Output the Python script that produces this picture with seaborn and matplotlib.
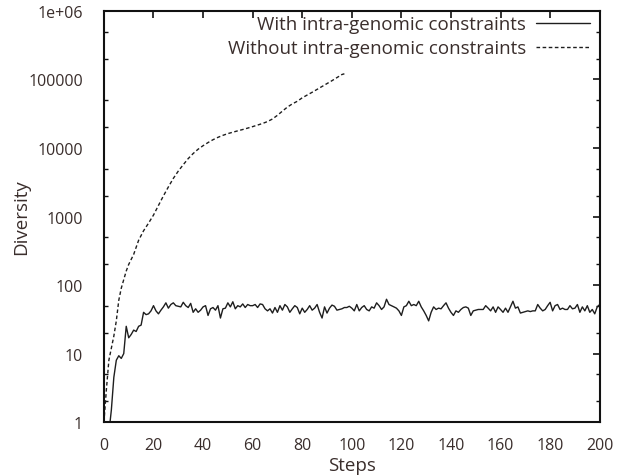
import numpy as np
import pandas as pd
import matplotlib
matplotlib.use("Agg")
import matplotlib.pyplot as plt
import seaborn as sns
from matplotlib.ticker import LogLocator, FixedLocator, NullFormatter, FixedFormatter

# ---- data ----
with_steps = list(range(2, 201))
with_values = [
    0.7, 1.5, 4.5, 8.0, 9.3, 8.5, 10.0, 25.0, 17.0, 19.0,          # 2-11
    22.0, 21.0, 25.0, 26.0, 40.0, 37.0, 38.0, 42.0, 50.0, 42.0,     # 12-21
    38.0, 43.0, 48.0, 55.0, 46.0, 52.0, 55.0, 50.0, 49.0, 48.0,     # 22-31
    56.0, 50.0, 47.0, 54.0, 40.0, 45.0, 40.0, 43.0, 48.0, 50.0,     # 32-41
    36.0, 45.0, 47.0, 43.0, 50.0, 33.0, 45.0, 46.0, 55.0, 48.0,     # 42-51
    57.0, 45.0, 50.0, 48.0, 53.0, 47.0, 52.0, 50.0, 50.0, 52.0,     # 52-61
    47.0, 53.0, 52.0, 45.0, 42.0, 45.0, 39.0, 47.0, 40.0, 50.0,     # 62-71
    43.0, 52.0, 48.0, 40.0, 45.0, 50.0, 47.0, 38.0, 46.0, 40.0,     # 72-81
    44.0, 50.0, 43.0, 46.0, 52.0, 40.0, 33.0, 48.0, 39.0, 46.0,     # 82-91
    51.0, 49.0, 43.0, 44.0, 45.0, 47.0, 47.0, 49.0, 46.0, 42.0,     # 92-101
    52.0, 42.0, 47.0, 50.0, 44.0, 42.0, 48.0, 46.0, 55.0, 50.0,     # 102-111
    44.0, 48.0, 62.0, 52.0, 50.0, 48.0, 46.0, 42.0, 36.0, 48.0,     # 112-121
    50.0, 58.0, 50.0, 52.0, 50.0, 58.0, 48.0, 42.0, 36.0, 30.0,     # 122-131
    40.0, 48.0, 44.0, 46.0, 45.0, 50.0, 55.0, 46.0, 40.0, 36.0,     # 132-141
    42.0, 40.0, 44.0, 47.0, 48.0, 46.0, 36.0, 42.0, 43.0, 44.0,     # 142-151
    44.0, 44.0, 50.0, 46.0, 42.0, 48.0, 40.0, 48.0, 44.0, 40.0,     # 152-161
    46.0, 40.0, 48.0, 58.0, 46.0, 48.0, 39.0, 40.0, 41.0, 42.0,     # 162-171
    41.0, 42.0, 42.0, 52.0, 46.0, 42.0, 44.0, 50.0, 56.0, 42.0,     # 172-181
    50.0, 52.0, 44.0, 46.0, 44.0, 44.0, 50.0, 45.0, 46.0, 52.0,     # 182-191
    40.0, 48.0, 42.0, 50.0, 40.0, 44.0, 38.0, 48.0, 52.0,           # 192-200
]

without_steps = [0, 1, 2, 3, 4, 5, 6, 7, 8, 9, 10, 12, 14, 16, 18, 20, 22, 24,
                 26, 28, 30, 32, 34, 36, 38, 40, 42, 44, 46, 48, 50, 52, 54,
                 56, 58, 60, 62, 64, 66, 68, 70, 72, 74, 76, 78, 80, 84, 88,
                 92, 96, 97]
without_values = [1, 3, 8, 12, 18, 30, 60, 90, 120, 160, 200, 280, 450, 620,
                  800, 1050, 1450, 2000, 2700, 3600, 4600, 5700, 7000, 8300,
                  9600, 10800, 12000, 13200, 14300, 15300, 16200, 17000, 17800,
                  18600, 19500, 20500, 21600, 22800, 24300, 26500, 30000, 34500,
                  39500, 44000, 48000, 54000, 65000, 79000, 96000, 118000, 121000]

x_ticks = [0, 20, 40, 60, 80, 100, 120, 140, 160, 180, 200]
y_ticks = [1, 10, 100, 1000, 10000, 100000, 1000000]
y_tick_labels = ["1", "10", "100", "1000", "10000", "100000", "1e+06"]
label_with = "With intra-genomic constraints"
label_without = "Without intra-genomic constraints"

# ---- style ----
sns.set_theme(style="white")
plt.rcParams["font.family"] = ["Open Sans", "DejaVu Sans"]
text_color = "#3a2e2c"
line_color = "#1e1e1e"

fig = plt.figure(figsize=(6.26, 4.77), dpi=100)
ax = fig.add_axes([0.166, 0.113, 0.792, 0.862])

df_with = pd.DataFrame({"Steps": with_steps, "Diversity": with_values})
df_without = pd.DataFrame({"Steps": without_steps, "Diversity": without_values})

sns.lineplot(data=df_with, x="Steps", y="Diversity", ax=ax, color=line_color,
             linewidth=1.0, legend=False)
sns.lineplot(data=df_without, x="Steps", y="Diversity", ax=ax, color=line_color,
             linewidth=1.0, legend=False)
line_with, line_without = ax.get_lines()[0], ax.get_lines()[1]
line_without.set_dashes((2.6, 1.8))

ax.set_yscale("log")
ax.set_xlim(0, 200)
ax.set_ylim(1, 1e6)

ax.xaxis.set_major_locator(FixedLocator(x_ticks))
ax.yaxis.set_major_locator(FixedLocator(y_ticks))
ax.yaxis.set_major_formatter(FixedFormatter(y_tick_labels))
ax.yaxis.set_minor_locator(LogLocator(base=10, subs=(2.0, 5.0)))
ax.yaxis.set_minor_formatter(NullFormatter())

ax.tick_params(axis="both", which="major", direction="in", length=5, width=1.2,
               top=True, right=True, labelsize=11.5, labelcolor=text_color,
               color="#111111")
ax.tick_params(axis="y", which="major", pad=15)
ax.tick_params(axis="x", which="major", pad=10.5)
ax.tick_params(axis="y", which="minor", direction="in", length=3, width=1.0,
               left=True, right=True, color="#111111")
for s in ax.spines.values():
    s.set_linewidth(1.5)
    s.set_color("#111111")

ax.set_xlabel("Steps", fontsize=13.5, color=text_color, labelpad=2.5)
ax.set_ylabel("Diversity", fontsize=13.5, color=text_color)
ax.yaxis.set_label_coords(-0.148, 0.5)

leg = ax.legend([line_with, line_without], [label_with, label_without],
                loc="upper right", bbox_to_anchor=(0.9874, 0.998),
                frameon=False, markerfirst=False,
                fontsize=13.5, handlelength=2.85, handletextpad=0.53,
                labelspacing=0.3, borderaxespad=0.0, borderpad=0.2)
for t in leg.get_texts():
    t.set_color(text_color)

fig.savefig("out.png", dpi=100, facecolor="white")
